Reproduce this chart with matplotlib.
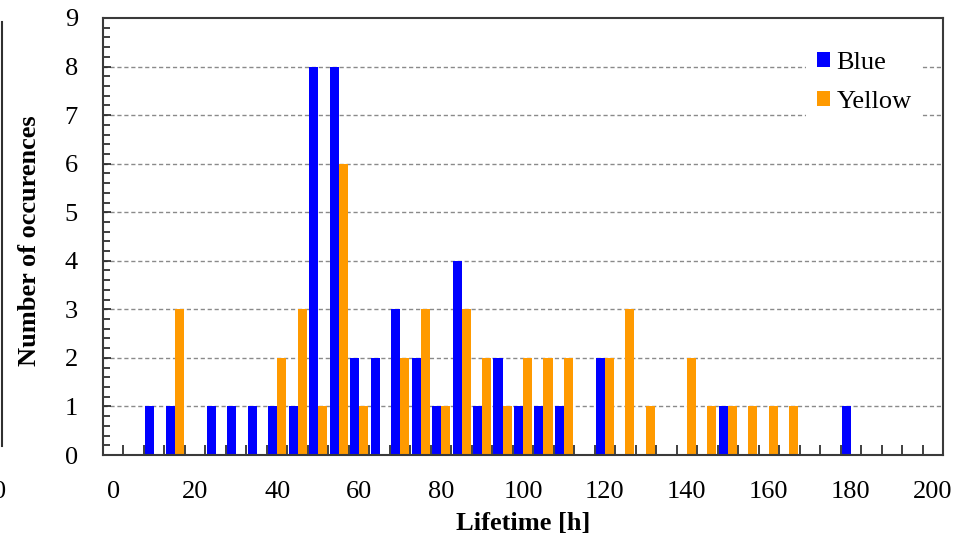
import matplotlib
matplotlib.use("Agg")
import matplotlib.pyplot as plt
from matplotlib.patches import Patch
from matplotlib.lines import Line2D
from matplotlib.ticker import MultipleLocator, FixedLocator

# lifetime classes (h), 5 h wide, and occurrence counts per class
lifetime = list(range(0, 205, 5))
blue = [0, 0, 1, 1, 0, 1, 1, 1, 1, 1, 8, 8, 2, 2, 3, 2, 1, 4, 1, 2, 1,
        1, 1, 0, 2, 0, 0, 0, 0, 0, 1, 0, 0, 0, 0, 0, 1, 0, 0, 0, 0]
yellow = [0, 0, 0, 3, 0, 0, 0, 0, 2, 3, 1, 6, 1, 0, 2, 3, 1, 3, 2, 1, 2,
          2, 2, 0, 2, 3, 1, 0, 2, 1, 1, 1, 1, 1, 0, 0, 0, 0, 0, 0, 0]

BLUE = "#0000FF"
ORANGE = "#FF9A00"
SERIF = ["Liberation Serif", "DejaVu Serif"]
plt.rcParams["font.family"] = SERIF
FS = 19

W, H = 966, 538
fig = plt.figure(figsize=(W / 100, H / 100), dpi=100)
ax = fig.add_axes([103 / W, 1 - 455 / H, 840 / W, 437 / H])

bw = 2.2
ax.bar([c - bw / 2 for c in lifetime], blue, width=bw, color=BLUE, zorder=3)
ax.bar([c + bw / 2 for c in lifetime], yellow, width=bw, color=ORANGE, zorder=3)

ax.set_xlim(-2.5, 202.5)
ax.set_ylim(0, 9)

# labelled ticks every 20 h without marks, class boundaries as small inward marks
ax.xaxis.set_major_locator(MultipleLocator(20))
ax.xaxis.set_minor_locator(FixedLocator([2.5 + 5 * k for k in range(40)]))
ax.tick_params(axis="x", which="major", length=0, pad=19, labelsize=FS)
ax.tick_params(axis="x", which="minor", direction="in", length=7, width=1.2,
               color="#202020")

ax.yaxis.set_major_locator(MultipleLocator(1))
ax.yaxis.set_minor_locator(MultipleLocator(0.2))
ax.tick_params(axis="y", which="major", direction="in", length=6, width=1.2,
               pad=18, labelsize=FS, color="#202020")
ax.tick_params(axis="y", which="minor", direction="in", length=5, width=1.2,
               color="#202020")

for y in range(1, 9):
    ax.axhline(y, color="#8a8a8a", lw=1.0, ls=(0, (3, 2)), zorder=1)

for sp in ax.spines.values():
    sp.set_color("#3a3a3a")
    sp.set_linewidth(1.5)
    sp.set_zorder(4)

ax.set_xlabel("Lifetime [h]", fontsize=FS, fontweight="bold", labelpad=6)
ax.set_ylabel("Number of occurences", fontsize=FS, fontweight="bold")
ax.yaxis.set_label_coords(-62 / 840, 0.49)

handles = [Patch(facecolor=BLUE, edgecolor="none", label="Blue"),
           Patch(facecolor=ORANGE, edgecolor="none", label="Yellow")]
leg = ax.legend(handles=handles, loc="upper left",
                bbox_to_anchor=((806 - 103) / 840, 1 - (41 - 18) / 437),
                frameon=True, fontsize=FS, handlelength=0.5, handleheight=0.5,
                handletextpad=0.25, labelspacing=0.65, borderpad=0.4,
                borderaxespad=0)
leg.get_frame().set_facecolor("white")
leg.get_frame().set_edgecolor("none")
leg.get_frame().set_alpha(1)
leg.set_zorder(5)

# edge of the neighbouring panel on the left
fig.add_artist(Line2D([2 / W, 2 / W], [1 - 22 / H, 1 - 446 / H],
                      color="#303030", lw=1.5))
fig.text(-7 / W, 1 - 492 / H, "0", fontsize=FS, ha="left", va="center")

fig.savefig("out.png", dpi=100)
